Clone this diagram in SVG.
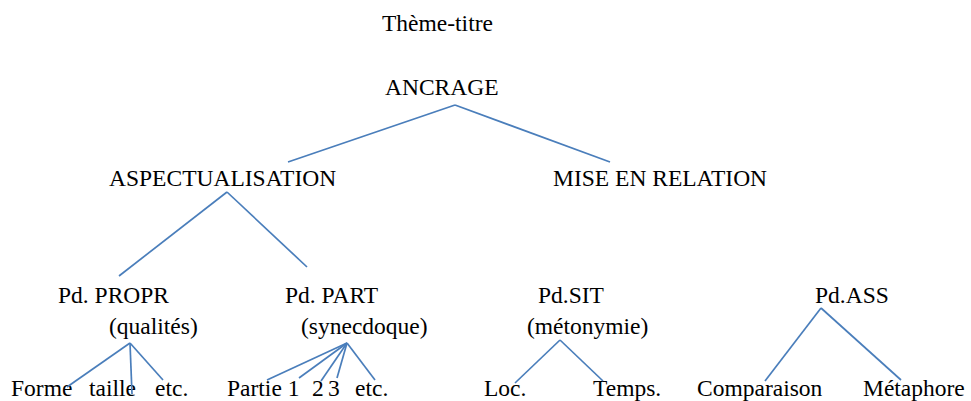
<svg xmlns="http://www.w3.org/2000/svg" width="971" height="401" viewBox="0 0 971 401">
<style>
text{font-family:"Liberation Serif","Times New Roman",serif;font-size:23.5px;fill:#000}
.c line{stroke:#4a7ebb;stroke-width:1.7;fill:none}
</style>
<rect width="971" height="401" fill="#fff"/>
<g id="theme"><text x="382" y="31">Thème-titre</text></g>
<g id="ancrage"><text x="385" y="95">ANCRAGE</text></g>
<g id="aspectualisation"><text x="109" y="186">ASPECTUALISATION</text></g>
<g id="mise-en-relation"><text x="553" y="186">MISE EN RELATION</text></g>
<g id="pd-propr"><text x="58" y="303">Pd. PROPR</text><text x="109" y="334">(qualités)</text></g>
<g id="pd-part"><text x="285" y="303">Pd. PART</text><text x="301" y="334">(synecdoque)</text></g>
<g id="pd-sit"><text x="538" y="303">Pd.SIT</text><text x="527" y="334">(métonymie)</text></g>
<g id="pd-ass"><text x="815" y="303">Pd.ASS</text></g>
<g id="forme"><text x="11" y="396">Forme</text></g>
<g id="taille"><text x="89" y="396">taille</text></g>
<g id="etc1"><text x="155" y="396">etc.</text></g>
<g id="partie1"><text x="227" y="396">Partie 1</text></g>
<g id="p2"><text x="312" y="396">2</text></g>
<g id="p3"><text x="328" y="396">3</text></g>
<g id="etc2"><text x="355" y="396">etc.</text></g>
<g id="loc"><text x="484" y="396">Loc.</text></g>
<g id="temps"><text x="593" y="396">Temps.</text></g>
<g id="comparaison"><text x="697" y="396">Comparaison</text></g>
<g id="metaphore"><text x="863" y="396">Métaphore</text></g>
<g id="connectors" class="c">
<line x1="455" y1="105" x2="288" y2="162"/>
<line x1="455" y1="105" x2="610" y2="162"/>
<line x1="227" y1="192" x2="119" y2="276"/>
<line x1="227" y1="192" x2="307" y2="267"/>
<line x1="130" y1="343" x2="67" y2="387"/>
<line x1="130" y1="343" x2="132" y2="394"/>
<line x1="130" y1="343" x2="163" y2="380"/>
<line x1="347" y1="343" x2="267" y2="380"/>
<line x1="347" y1="343" x2="299" y2="378"/>
<line x1="347" y1="343" x2="321" y2="381"/>
<line x1="347" y1="343" x2="337" y2="378"/>
<line x1="347" y1="343" x2="375" y2="380"/>
<line x1="560" y1="340" x2="515" y2="383"/>
<line x1="560" y1="340" x2="603" y2="381"/>
<line x1="821" y1="308" x2="765" y2="381"/>
<line x1="821" y1="308" x2="901" y2="380"/>
</g>
</svg>
